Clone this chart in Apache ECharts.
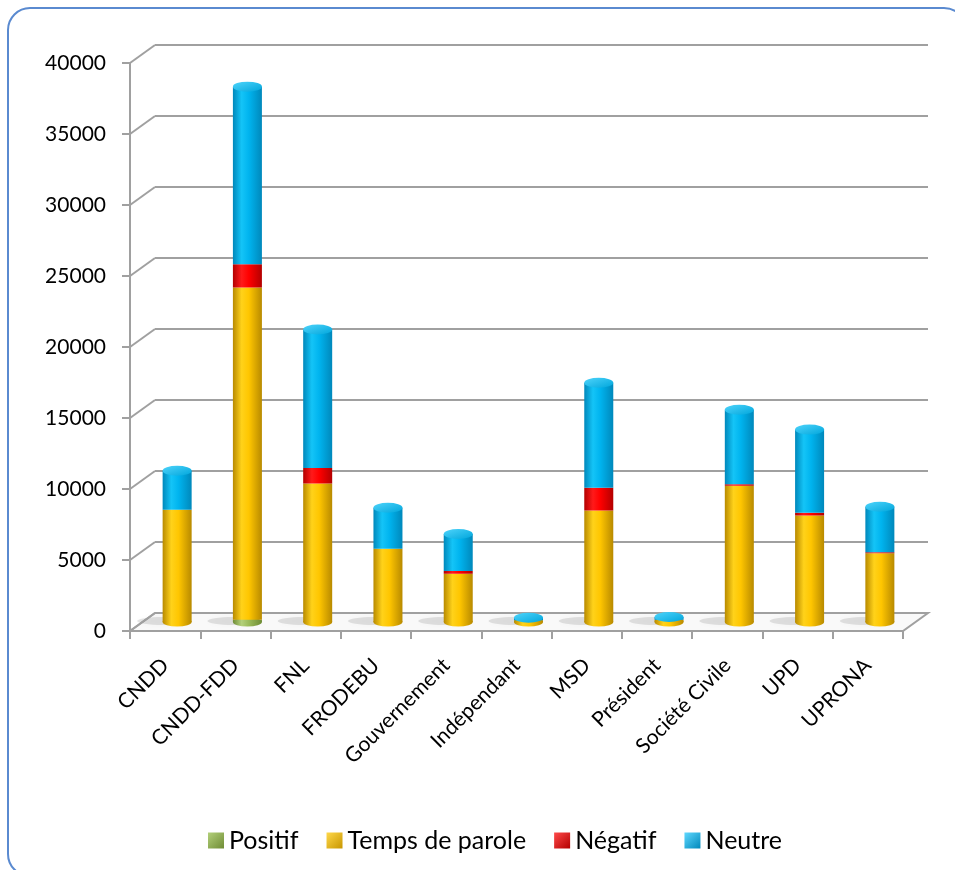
<!DOCTYPE html>
<html>
<head>
<meta charset="utf-8">
<script src="https://cdn.jsdelivr.net/npm/echarts@6/dist/echarts.min.js"></script>
<style>
  html, body { margin: 0; padding: 0; background: #fff; }
  #chart { width: 955px; height: 870px; }
</style>
</head>
<body>
<div id="chart"></div>
<script>
const categories = ["CNDD", "CNDD-FDD", "FNL", "FRODEBU", "Gouvernement", "Indépendant", "MSD", "Président", "Société Civile", "UPD", "UPRONA"];
const positif = [0, 150, 0, 0, 0, 0, 0, 0, 0, 0, 0];
const tempsParole = [7900, 23400, 9750, 5150, 3400, 120, 7850, 150, 9600, 7500, 4850];
const negatif = [0, 1650, 1100, 0, 200, 0, 1600, 0, 100, 200, 60];
const neutre = [2750, 12500, 9750, 2900, 2600, 180, 7400, 200, 5250, 5850, 3200];
const yTicks = [0, 5000, 10000, 15000, 20000, 25000, 30000, 35000, 40000];

const totals = categories.map((_, i) => positif[i] + tempsParole[i] + negatif[i] + neutre[i]);

const FONT = "Lato";
const GRID_GRAY = "#a0a0a0";

function cyl(edge, mid, light) {
  return new echarts.graphic.LinearGradient(0, 0, 1, 0, [
    { offset: 0, color: edge },
    { offset: 0.3, color: light },
    { offset: 0.55, color: mid },
    { offset: 1, color: edge },
  ]);
}

function bevel(dark, light) {
  return new echarts.graphic.LinearGradient(0, 0, 1, 1, [
    { offset: 0, color: light },
    { offset: 1, color: dark },
  ]);
}

const colGreen = cyl("#6f8c35", "#9bbb59", "#b3d07a");
const colYellow = cyl("#b88a00", "#ffc600", "#ffd21a");
const colRed = cyl("#b30000", "#ff0000", "#ff1a1a");
const colBlue = cyl("#0088bb", "#00b4ef", "#14c4f7");

const chart = echarts.init(document.getElementById("chart"));

const barW = 29;

function stackSeries(name, data, color) {
  return {
    name: name,
    type: "bar",
    stack: "total",
    xAxisIndex: 2,
    yAxisIndex: 2,
    barWidth: barW,
    data: data,
    itemStyle: { color: color },
    z: 3,
  };
}

chart.setOption({
  backgroundColor: "#fff",
  animation: false,
  textStyle: { fontFamily: FONT },
  grid: [
    // back wall
    { left: 155, right: 27, top: 45, bottom: 257 },
    // front axis
    { left: 130, right: 52, top: 63, bottom: 239 },
    // bars at mid depth
    { left: 142, right: 40, top: 54, bottom: 248 },
  ],
  xAxis: [
    { gridIndex: 0, type: "category", data: categories, show: false },
    {
      gridIndex: 1,
      type: "category",
      data: categories,
      axisLine: { lineStyle: { color: GRID_GRAY, width: 2 } },
      axisTick: { show: true, length: 8, lineStyle: { color: GRID_GRAY, width: 2 } },
      axisLabel: {
        rotate: 45,
        margin: 31,
        interval: 0,
        color: "#000",
        fontSize: 21,
        fontFamily: FONT,
      },
    },
    { gridIndex: 2, type: "category", data: categories, show: false },
  ],
  yAxis: [
    {
      gridIndex: 0,
      type: "value",
      min: 0,
      max: 40000,
      interval: 5000,
      axisLine: { show: false },
      axisTick: { show: false },
      axisLabel: { show: false },
      splitLine: { lineStyle: { color: GRID_GRAY, width: 2 } },
    },
    {
      gridIndex: 1,
      type: "value",
      min: 0,
      max: 40000,
      interval: 5000,
      axisLine: { show: true, lineStyle: { color: GRID_GRAY, width: 2 } },
      axisTick: { show: true, length: 8, lineStyle: { color: GRID_GRAY, width: 2 } },
      axisLabel: {
        margin: 24,
        color: "#000",
        fontSize: 21,
        fontFamily: FONT,
        formatter: (v) => String(v),
      },
      splitLine: { show: false },
    },
    { gridIndex: 2, type: "value", min: 0, max: 40000, show: false },
  ],
  legend: {
    top: 823,
    left: 203,
    data: [
      { name: "Positif", itemStyle: { color: bevel("#6f8c35", "#b3d07a") } },
      { name: "Temps de parole", itemStyle: { color: bevel("#c89600", "#ffd84a") } },
      { name: "Négatif", itemStyle: { color: bevel("#b30000", "#ff4a4a") } },
      { name: "Neutre", itemStyle: { color: bevel("#0088bb", "#5fd8ff") } },
    ],
    icon: "rect",
    itemWidth: 16,
    itemHeight: 16,
    itemGap: 28,
    textStyle: { fontSize: 25, color: "#000", fontFamily: FONT },
  },
  series: [
    {
      name: "bottomCap",
      type: "pictorialBar",
      xAxisIndex: 2,
      yAxisIndex: 2,
      symbol: "circle",
      symbolSize: [barW, 9],
      symbolPosition: "start",
      symbolOffset: [0, "50%"],
      barGap: "-100%",
      data: totals.map((v, i) => ({
        value: v,
        itemStyle: { color: positif[i] > 0 ? colGreen : colYellow },
      })),
      z: 2,
      silent: true,
    },
    stackSeries("Positif", positif, colGreen),
    stackSeries("Temps de parole", tempsParole, colYellow),
    stackSeries("Négatif", negatif, colRed),
    stackSeries("Neutre", neutre, colBlue),
    {
      name: "topCap",
      type: "pictorialBar",
      xAxisIndex: 2,
      yAxisIndex: 2,
      symbol: "circle",
      symbolSize: [barW, 10],
      symbolPosition: "end",
      symbolOffset: [0, "-50%"],
      barGap: "-100%",
      data: totals,
      itemStyle: {
        color: new echarts.graphic.LinearGradient(0, 0, 1, 1, [
          { offset: 0, color: "#4fd4fb" },
          { offset: 1, color: "#00a6dc" },
        ]),
      },
      z: 4,
      silent: true,
    },
  ],
});

// 3D frame: side-wall diagonals, floor and the outer rounded border
const graphics = [];
yTicks.forEach((v) => {
  const yf = chart.convertToPixel({ yAxisIndex: 1 }, v);
  const yb = chart.convertToPixel({ yAxisIndex: 0 }, v);
  graphics.push({
    type: "line",
    shape: { x1: 130, y1: yf, x2: 155, y2: yb },
    style: { stroke: GRID_GRAY, lineWidth: 2 },
    z: 1,
  });
});
const yf0 = chart.convertToPixel({ yAxisIndex: 1 }, 0);
const yb0 = chart.convertToPixel({ yAxisIndex: 0 }, 0);
graphics.push({
  type: "polygon",
  shape: { points: [[130, yf0], [155, yb0], [928, yb0], [903, yf0]] },
  style: { fill: "#f9f9f9", stroke: GRID_GRAY, lineWidth: 2 },
  z: 0,
});
// soft floor shadows behind each cylinder
categories.forEach((c) => {
  const x = chart.convertToPixel({ xAxisIndex: 2 }, c);
  graphics.push({
    type: "ellipse",
    shape: { cx: x - 14, cy: yb0 + 8, rx: 26, ry: 4 },
    style: { fill: "rgba(0,0,0,0.10)", shadowBlur: 6, shadowColor: "rgba(0,0,0,0.25)" },
    z: 0,
    silent: true,
  });
});
graphics.push({
  type: "rect",
  shape: { x: 8, y: 8, width: 958, height: 868, r: 22 },
  style: { fill: "none", stroke: "#5a8ad0", lineWidth: 2 },
  z: 10,
  silent: true,
});
chart.setOption({ graphic: graphics });
</script>
</body>
</html>
